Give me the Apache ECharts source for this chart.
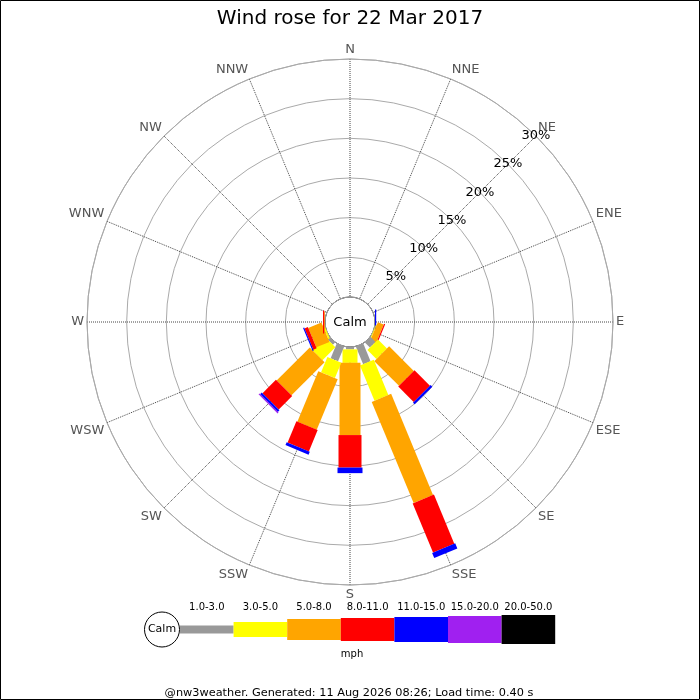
<!DOCTYPE html>
<html>
<head>
<meta charset="utf-8">
<script src="https://cdn.jsdelivr.net/npm/echarts@6/dist/echarts.min.js"></script>
<style>
  html, body { margin: 0; padding: 0; background: #fff; }
  #chart { width: 700px; height: 700px; }
</style>
</head>
<body>
<div id="chart"></div>
<script>
// compass points, clockwise from N
var directions = ["N", "NNE", "NE", "ENE", "E", "ESE", "SE", "SSE",
                  "S", "SSW", "SW", "WSW", "W", "WNW", "NW", "NNW"];
var speedClasses = ["1.0-3.0", "3.0-5.0", "5.0-8.0", "8.0-11.0", "11.0-15.0", "15.0-20.0", "20.0-50.0"];
var radiusTicks = [0, 5, 10, 15, 20, 25, 30];

// frequency (%) per speed class, per direction
var spd1to3   = [0, 0, 0, 0, 0,    0,    0.9,  2.4,  0.3,  2.0,  0.4,  0,    0,    0, 0, 0];
var spd3to5   = [0, 0, 0, 0, 0,    0.1,  1.6,  4.8,  1.7,  2.1,  2.3,  0.2,  0,    0, 0, 0];
var spd5to8   = [0, 0, 0, 0, 0,    0.8,  4.4,  13.8, 9.1,  6.9,  5.9,  1.8,  0.1,  0, 0, 0];
var spd8to11  = [0, 0, 0, 0, 0,    0.15, 2.75, 6.7,  4.1,  2.9,  2.4,  0.45, 0.15, 0, 0, 0];
var spd11to15 = [0, 0, 0, 0, 0.15, 0,    0.3,  0.7,  0.7,  0.4,  0.3,  0.15, 0,    0, 0, 0];
var spd15to20 = [0, 0, 0, 0, 0,    0,    0,    0,    0,    0,    0.15, 0,    0,    0, 0, 0];
var spd20to50 = [0, 0, 0, 0, 0,    0,    0,    0,    0,    0,    0,    0,    0,    0, 0, 0];

var classColors = ["#999999", "#ffff00", "#ffa500", "#ff0000", "#0000ff", "#a020f0", "#000000"];
var classWidths = [8, 15, 21, 23, 25, 27, 29];

var allClasses = [spd1to3, spd3to5, spd5to8, spd8to11, spd11to15, spd15to20, spd20to50];

// build [start, end, angle, classIndex] rows
var barRows = [];
for (var d = 0; d < directions.length; d++) {
    var cum = 0;
    for (var k = 0; k < allClasses.length; k++) {
        var v = allClasses[k][d];
        if (v > 0) {
            barRows.push([cum, cum + v, d * 22.5, k]);
            cum += v;
        }
    }
}

function renderBar(params, api) {
    var r0 = api.value(0), r1 = api.value(1), ang = api.value(2), k = api.value(3);
    var p0 = api.coord([r0, ang]);
    var p1 = api.coord([r1, ang]);
    var a = api.coord([0, ang]);
    var b = api.coord([30, ang]);
    var len = Math.sqrt((b[0] - a[0]) * (b[0] - a[0]) + (b[1] - a[1]) * (b[1] - a[1]));
    var ux = (b[0] - a[0]) / len, uy = (b[1] - a[1]) / len;
    var h = classWidths[k] / 2;
    var nx = -uy * h, ny = ux * h;
    return {
        type: "polygon",
        shape: { points: [
            [p0[0] + nx, p0[1] + ny], [p1[0] + nx, p1[1] + ny],
            [p1[0] - nx, p1[1] - ny], [p0[0] - nx, p0[1] - ny]
        ] },
        style: { fill: classColors[k] }
    };
}

var cx = 350, cy = 322;
var font = "DejaVu Sans";

// legend under the rose
var legendGraphics = [
    { type: "circle", shape: { cx: 162, cy: 629.5, r: 17.5 }, style: { fill: "#fff", stroke: "#000", lineWidth: 1 }, z: 10 },
    { type: "text", style: { x: 162, y: 629.5, text: "Calm", font: "11px " + font, fill: "#000", align: "center", verticalAlign: "middle" }, z: 11 }
];
var legX = 180, legStep = 53.6;
for (var i = 0; i < speedClasses.length; i++) {
    var hgt = classWidths[i];
    legendGraphics.push({
        type: "rect",
        shape: { x: legX + i * legStep, y: 629.5 - hgt / 2, width: legStep, height: hgt },
        style: { fill: classColors[i] }, z: 10
    });
    legendGraphics.push({
        type: "text",
        style: { x: legX + (i + 0.5) * legStep, y: 607, text: speedClasses[i], font: "10px " + font, fill: "#000", align: "center", verticalAlign: "middle" },
        z: 10
    });
}
legendGraphics.push({ type: "text", style: { x: 352, y: 654, text: "mph", font: "10px " + font, fill: "#000", align: "center", verticalAlign: "middle" }, z: 10 });

var chart = echarts.init(document.getElementById("chart"), null, { renderer: "canvas" });
chart.setOption({
    backgroundColor: "#fff",
    animation: false,
    title: {
        text: "Wind rose for 22 Mar 2017",
        left: "center",
        top: 4,
        textStyle: { fontFamily: font, fontSize: 20, fontWeight: "normal", color: "#000" }
    },
    polar: [
        { center: [cx, cy], radius: [25, 263] },
        { center: [cx, cy], radius: [25, 263] }
    ],
    angleAxis: [{
        polarIndex: 0,
        type: "value",
        min: 0,
        max: 360,
        interval: 22.5,
        startAngle: 90,
        clockwise: true,
        axisLine: { lineStyle: { color: "#aaaaaa", width: 1 } },
        axisTick: { show: false },
        axisLabel: {
            margin: 3,
            align: "center",
            verticalAlign: "middle",
            fontFamily: font,
            fontSize: 13,
            color: "#555555",
            formatter: function (v) { return directions[Math.round(v / 22.5) % 16]; }
        },
        splitLine: { show: true, lineStyle: { color: "#444444", type: "dotted", width: 1 } }
    }, {
        polarIndex: 1,
        type: "value",
        min: 0,
        max: 360,
        startAngle: 45,
        show: false
    }],
    radiusAxis: [{
        polarIndex: 0,
        type: "value",
        min: 0,
        max: 30,
        interval: 5,
        axisLine: { show: false },
        axisTick: { show: false },
        axisLabel: { show: false },
        splitLine: { show: true, lineStyle: { color: ["#000000", "#aaaaaa", "#aaaaaa", "#aaaaaa", "#aaaaaa", "#aaaaaa", "#aaaaaa"], width: 1 } }
    }, {
        polarIndex: 1,
        type: "value",
        min: radiusTicks[0],
        max: radiusTicks[radiusTicks.length - 1],
        interval: 5,
        z: 20,
        axisLine: { show: false },
        axisTick: { show: false },
        splitLine: { show: false },
        axisLabel: {
            showMinLabel: false,
            margin: 0,
            align: "center",
            verticalAlign: "middle",
            fontFamily: font,
            fontSize: 13,
            color: "#000",
            formatter: "{value}%"
        }
    }],
    series: [{
        type: "custom",
        coordinateSystem: "polar",
        polarIndex: 0,
        renderItem: renderBar,
        encode: { radius: [0, 1], angle: 2 },
        data: barRows,
        z: 5,
        silent: true
    }],
    graphic: [{
        type: "group",
        children: legendGraphics.concat([
            { type: "text", style: { x: cx, y: cy + 1, text: "Calm", font: "13px " + font, fill: "#000", align: "center", verticalAlign: "middle" }, z: 12 },
            { type: "text", style: { x: 349, y: 693, text: "@nw3weather. Generated: 11 Aug 2026 08:26; Load time: 0.40 s", font: "11.3px " + font, fill: "#000", align: "center", verticalAlign: "middle" }, z: 10 },
            { type: "rect", shape: { x: 0.5, y: 0.5, width: 699, height: 699 }, style: { fill: null, stroke: "#000", lineWidth: 1 }, z: 30 }
        ])
    }]
});
</script>
</body>
</html>
